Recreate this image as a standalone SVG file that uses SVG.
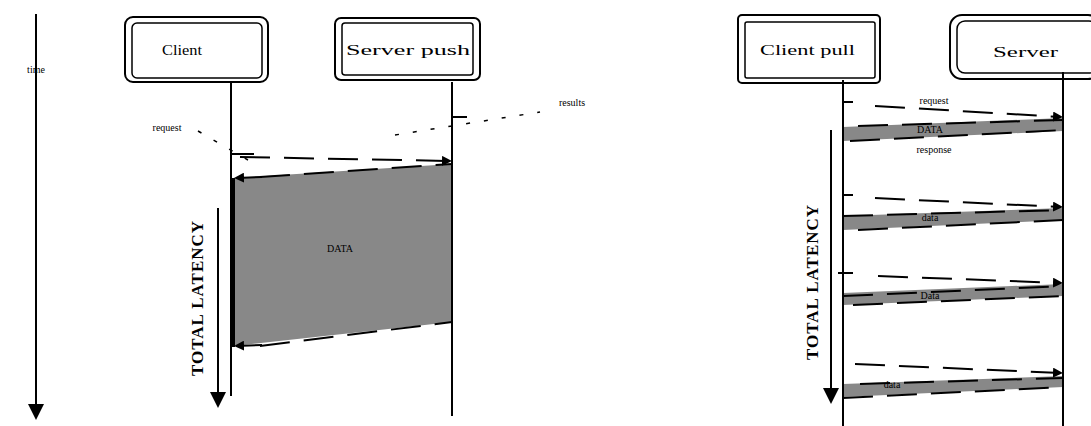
<svg xmlns="http://www.w3.org/2000/svg" width="1091" height="426" viewBox="0 0 1091 426">
  <style>
    .life { stroke: #000; stroke-width: 2; fill: none; }
    .box { fill: #fff; stroke: #000; stroke-width: 2; }
    .boxin { fill: none; stroke: #000; stroke-width: 1.5; }
    .title { font-family: "Liberation Serif", serif; font-size: 15px; fill: #000; }
    .lbl { font-family: "Liberation Serif", serif; font-size: 10px; fill: #000; text-anchor: middle; }
    .vlbl { font-family: "Liberation Serif", serif; font-size: 17px; font-weight: bold; fill: #000; text-anchor: middle; letter-spacing: 1px; }
    .dash { stroke: #000; stroke-width: 2; stroke-dasharray: 30 14; fill: none; }
    .dot { stroke: #000; stroke-width: 1.5; stroke-dasharray: 4 14; fill: none; }
    .band { fill: #888; }
    .axis { stroke: #000; stroke-width: 2; fill: none; }
  </style>
  <defs>
    <marker id="tri" markerWidth="10" markerHeight="10" refX="8" refY="5" orient="auto" markerUnits="userSpaceOnUse">
      <path d="M0,0 L10,5 L0,10 z" fill="#000"/>
    </marker>
    <marker id="big" markerWidth="16" markerHeight="16" refX="14" refY="8" orient="auto" markerUnits="userSpaceOnUse">
      <path d="M0,0 L16,8 L0,16 z" fill="#000"/>
    </marker>
  </defs>

  <rect width="1091" height="426" fill="#fff"/>

  <!-- time axis -->
  <g id="time-axis">
    <line class="axis" x1="36" y1="14" x2="36" y2="418" marker-end="url(#big)"/>
    <text class="lbl" x="36" y="73">time</text>
  </g>

  <!-- server push side -->
  <g id="client">
    <rect class="box" x="125" y="17" width="143" height="65" rx="8"/>
    <rect class="boxin" x="132" y="23" width="130" height="55" rx="5"/>
    <text class="title" x="162" y="55" textLength="40" lengthAdjust="spacingAndGlyphs">Client</text>
  </g>
  <g id="server-push">
    <rect class="box" x="335" y="18" width="145" height="62" rx="6"/>
    <rect class="boxin" x="342" y="23" width="131" height="52" rx="3"/>
    <text class="title" x="346" y="55" textLength="124" lengthAdjust="spacingAndGlyphs">Server push</text>
  </g>

  <g id="push-exchange">
    <polygon class="band" points="234,178 452,164 452,322 234,346"/>
    <text class="lbl" x="340" y="252">DATA</text>
  </g>

  <g id="push-latency">
    <line class="axis" x1="218" y1="208" x2="218" y2="406" marker-end="url(#big)"/>
    <text class="vlbl" transform="translate(203,298) rotate(-90)">TOTAL LATENCY</text>
  </g>

  <!-- client pull side -->
  <g id="client-pull">
    <rect class="box" x="738" y="15" width="142" height="68" rx="4"/>
    <rect class="boxin" x="745" y="22" width="130" height="56" rx="2"/>
    <text class="title" x="760" y="55" textLength="95" lengthAdjust="spacingAndGlyphs">Client pull</text>
  </g>
  <g id="server">
    <rect class="box" x="950" y="15" width="150" height="64" rx="12"/>
    <rect class="boxin" x="957" y="21" width="140" height="52" rx="8"/>
    <text class="title" x="993" y="57" textLength="65" lengthAdjust="spacingAndGlyphs">Server</text>
  </g>

  <g id="pull-bands">
    <polygon class="band" points="843,127 1063,118 1063,131 843,141"/>
    <polygon class="band" points="843,216 1063,208 1063,220 843,230"/>
    <polygon class="band" points="843,293 1063,284 1063,296 843,305"/>
    <polygon class="band" points="843,384 1063,376 1063,387 843,397"/>
    <text class="lbl" x="930" y="133">DATA</text>
    <text class="lbl" x="930" y="221">data</text>
    <text class="lbl" x="930" y="299">Data</text>
    <text class="lbl" x="892" y="388">data</text>
    <text class="lbl" x="934" y="104">request</text>
    <text class="lbl" x="934" y="153">response</text>
  </g>

  <g id="pull-latency">
    <line class="axis" x1="831" y1="130" x2="831" y2="402" marker-end="url(#big)"/>
    <text class="vlbl" transform="translate(818,282) rotate(-90)">TOTAL LATENCY</text>
  </g>

  <!-- connectors -->
  <g id="connectors">
    <!-- lifelines -->
    <line class="life" x1="231" y1="82" x2="231" y2="396"/>
    <line class="axis" x1="233" y1="178" x2="233" y2="347" style="stroke-width:4"/>
    <line class="life" x1="452" y1="82" x2="452" y2="416"/>
    <line class="life" x1="843" y1="80" x2="843" y2="426"/>
    <line class="life" x1="1063" y1="72" x2="1063" y2="426"/>

    <!-- push: request and data edges -->
    <line class="life" x1="231" y1="154" x2="254" y2="154"/>
    <line class="life" x1="452" y1="117" x2="467" y2="117"/>
    <path class="dot" d="M198,131 L248,160"/>
    <path class="dot" d="M395,135 L540,112"/>
    <text class="lbl" x="167" y="131">request</text>
    <text class="lbl" x="572" y="106">results</text>
    <line class="dash" x1="240" y1="157" x2="450" y2="161" marker-end="url(#tri)"/>
    <line class="dash" x1="260" y1="177" x2="452" y2="164"/>
    <line class="dash" x1="260" y1="346" x2="452" y2="322"/>
    <line class="life" x1="262" y1="177" x2="236" y2="178" marker-end="url(#tri)"/>
    <line class="life" x1="262" y1="345" x2="236" y2="346" marker-end="url(#tri)"/>

    <!-- pull: request arrows and band edges -->
    <line class="life" x1="843" y1="102" x2="853" y2="102"/>
    <line class="dash" x1="875" y1="106" x2="1061" y2="117" marker-end="url(#tri)"/>
    <line class="dash" x1="858" y1="126" x2="1063" y2="120"/>
    <line class="dash" x1="850" y1="141" x2="1063" y2="130"/>

    <line class="life" x1="843" y1="195" x2="853" y2="195"/>
    <line class="dash" x1="875" y1="198" x2="1061" y2="207" marker-end="url(#tri)"/>
    <line class="dash" x1="843" y1="216" x2="1063" y2="210"/>
    <line class="dash" x1="858" y1="230" x2="1063" y2="220"/>

    <line class="life" x1="838" y1="273" x2="853" y2="273"/>
    <line class="dash" x1="878" y1="276" x2="1061" y2="283" marker-end="url(#tri)"/>
    <line class="dash" x1="843" y1="296" x2="1063" y2="286"/>
    <line class="dash" x1="853" y1="305" x2="1063" y2="296"/>

    <line class="dash" x1="855" y1="364" x2="1061" y2="373" marker-end="url(#tri)"/>
    <line class="dash" x1="860" y1="384" x2="1063" y2="378"/>
    <line class="dash" x1="843" y1="398" x2="1063" y2="387"/>
  </g>
</svg>
